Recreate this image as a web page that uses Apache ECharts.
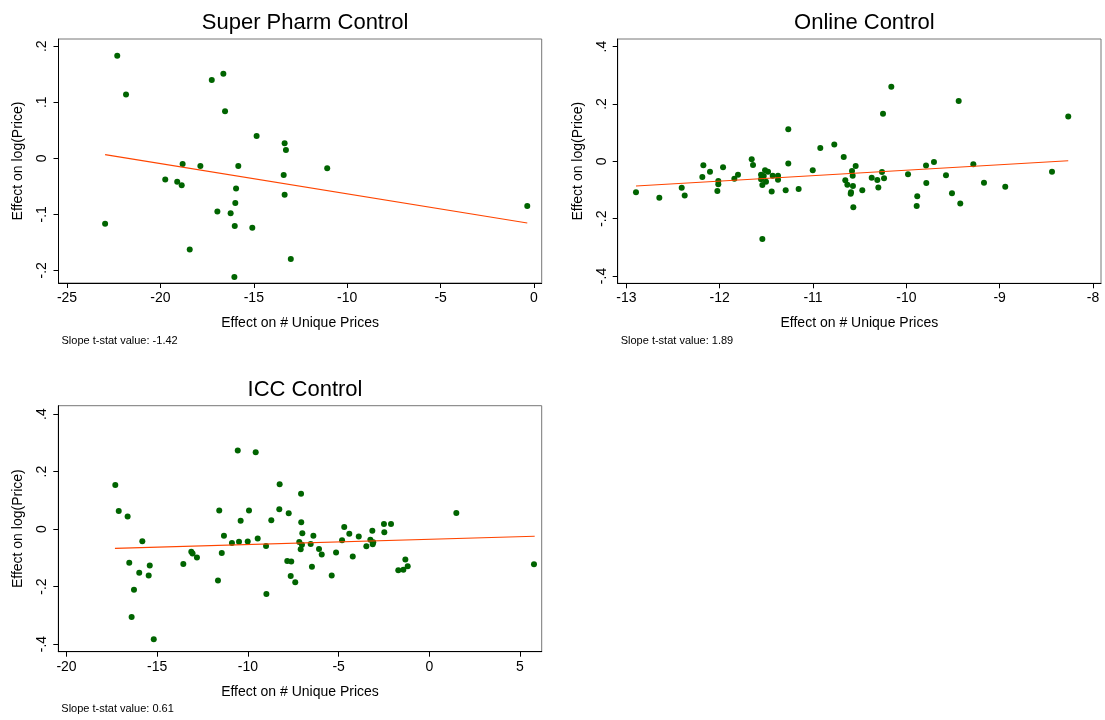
<!DOCTYPE html>
<html>
<head>
<meta charset="utf-8">
<script src="https://cdn.jsdelivr.net/npm/echarts@6/dist/echarts.min.js"></script>
<style>
html,body{margin:0;padding:0;background:#fff;}
#chart{width:1105px;height:720px;}
</style>
</head>
<body>
<div id="chart"></div>
<script>
// ---------- data ----------
const panelTitles = ['Super Pharm Control', 'Online Control', 'ICC Control'];
const tStatTexts = ['Slope t-stat value: -1.42', 'Slope t-stat value: 1.89', 'Slope t-stat value: 0.61'];
const xAxisName = 'Effect on # Unique Prices';
const yAxisName = 'Effect on log(Price)';

const superPharmPoints = [
  [-22.31,0.183],[-21.84,0.114],[-17.25,0.140],[-16.63,0.151],[-16.54,0.084],[-14.85,0.040],
  [-13.35,0.027],[-13.28,0.015],[-18.81,-0.010],[-17.86,-0.014],[-15.83,-0.014],[-19.74,-0.038],
  [-19.10,-0.042],[-18.86,-0.048],[-13.40,-0.030],[-15.95,-0.054],[-13.35,-0.065],[-15.99,-0.080],
  [-16.95,-0.095],[-16.24,-0.098],[-22.96,-0.117],[-16.02,-0.121],[-15.08,-0.124],[-18.43,-0.163],
  [-13.02,-0.180],[-16.04,-0.212],[-11.07,-0.018],[-0.36,-0.085]
];
const superPharmFit = [[-22.96,0.0065],[-0.36,-0.1155]];

const onlinePoints = [
  [-12.897,-0.108],[-12.647,-0.127],[-12.407,-0.092],[-12.375,-0.119],[-12.175,-0.014],[-12.186,-0.055],
  [-12.104,-0.036],[-11.964,-0.021],[-12.015,-0.069],[-12.015,-0.080],[-12.025,-0.104],[-11.843,-0.061],
  [-11.804,-0.047],[-11.657,0.007],[-11.643,-0.013],[-11.557,-0.047],[-11.514,-0.031],[-11.482,-0.036],
  [-11.528,-0.051],[-11.557,-0.063],[-11.504,-0.071],[-11.543,-0.083],[-11.543,-0.271],[-11.432,-0.050],
  [-11.375,-0.050],[-11.375,-0.064],[-11.443,-0.105],[-11.265,0.112],[-11.265,-0.008],[-11.293,-0.101],
  [-11.154,-0.097],[-11.003,-0.031],[-10.922,0.046],[-10.772,0.059],[-10.671,0.015],[-10.582,-0.034],
  [-10.575,-0.050],[-10.654,-0.066],[-10.632,-0.082],[-10.572,-0.086],[-10.593,-0.108],[-10.596,-0.113],
  [-10.568,-0.160],[-10.543,-0.016],[-10.472,-0.101],[-10.250,0.166],[-10.161,0.260],[-10.261,-0.037],
  [-10.239,-0.059],[-10.371,-0.057],[-10.311,-0.065],[-10.300,-0.091],[-9.982,-0.045],[-9.789,-0.015],
  [-9.704,-0.002],[-9.786,-0.076],[-9.883,-0.122],[-9.889,-0.156],[-9.575,-0.049],[-9.511,-0.111],
  [-9.439,0.210],[-9.422,-0.147],[-9.282,-0.010],[-9.168,-0.075],[-8.940,-0.089],[-8.439,-0.036],
  [-8.265,0.156]
];
const onlineFit = [[-12.897,-0.086],[-8.265,0.002]];

const iccPoints = [
  [-17.31,0.153],[-17.12,0.063],[-16.63,0.044],[-15.82,-0.042],[-16.54,-0.117],[-15.99,-0.152],
  [-15.47,-0.161],[-15.41,-0.127],[-16.28,-0.211],[-16.41,-0.306],[-15.19,-0.383],[-13.56,-0.121],
  [-13.12,-0.079],[-13.05,-0.085],[-12.81,-0.099],[-11.65,-0.179],[-11.58,0.065],[-11.44,-0.083],
  [-11.32,-0.023],[-10.88,-0.048],[-10.49,-0.044],[-10.56,0.273],[-10.40,0.029],[-10.01,-0.043],
  [-9.94,0.065],[-9.57,0.267],[-9.46,-0.033],[-9.00,-0.059],[-8.98,-0.226],[-8.71,0.031],
  [-8.25,0.156],[-8.27,0.069],[-7.75,0.055],[-7.83,-0.111],[-7.61,-0.113],[-7.64,-0.163],
  [-7.39,-0.185],[-7.07,0.123],[-7.06,0.024],[-7.00,-0.014],[-7.17,-0.045],[-7.02,-0.054],
  [-7.09,-0.070],[-6.39,-0.023],[-6.54,-0.052],[-6.47,-0.131],[-6.08,-0.069],[-5.93,-0.088],
  [-5.38,-0.161],[-5.14,-0.081],[-4.81,-0.039],[-4.69,0.007],[-4.41,-0.016],[-4.22,-0.095],
  [-3.89,-0.026],[-3.47,-0.060],[-3.25,-0.037],[-3.14,-0.006],[-3.12,-0.053],[-3.09,-0.046],
  [-2.50,0.018],[-2.11,0.018],[-2.48,-0.011],[-1.71,-0.143],[-1.43,-0.141],[-1.32,-0.106],
  [-1.19,-0.129],[1.49,0.056],[5.77,-0.122]
];
const iccFit = [[-17.33,-0.067],[5.81,-0.025]];

const xTicks = [[-25,-20,-15,-10,-5,0],[-13,-12,-11,-10,-9,-8],[-20,-15,-10,-5,0,5]];
const yTicks = [[-0.2,-0.1,0,0.1,0.2],[-0.4,-0.2,0,0.2,0.4],[-0.4,-0.2,0,0.2,0.4]];
const xRanges = [[-25.455,0.412],[-13.093,-7.914],[-20.452,6.196]];
const yRanges = [[-0.2227,0.2130],[-0.4255,0.4266],[-0.4264,0.4292]];

// ---------- layout ----------
const FONT = 'Liberation Sans, Arial, sans-serif';
const grids = [
  {left:58.5, top:39, width:483.2, height:244},
  {left:617.7, top:39, width:483.3, height:244.3},
  {left:58.3, top:405.7, width:483.4, height:246}
];
const pointSets = [superPharmPoints, onlinePoints, iccPoints];
const fitSets = [superPharmFit, onlineFit, iccFit];

function fmtY(v){
  if (Math.abs(v) < 1e-9) return '0';
  let s = String(Math.round(v*10)/10);
  return s.replace('0.', '.');
}

const option = {
  backgroundColor:'#fff',
  animation:false,
  title: panelTitles.map((t,i)=>({
    text:t, left: grids[i].left + grids[i].width/2, top: grids[i].top - 32, textAlign:'center',
    textStyle:{fontFamily:FONT, fontSize:22, fontWeight:'normal', color:'#000'}
  })),
  grid: grids.map(g=>({left:g.left, top:g.top, width:g.width, height:g.height, show:true,
    borderColor:'#777', borderWidth:1, backgroundColor:'#fff', containLabel:false})),
  xAxis: grids.map((g,i)=>({
    type:'value', gridIndex:i, min:xRanges[i][0], max:xRanges[i][1],
    name:xAxisName, nameLocation:'middle', nameGap:33,
    nameTextStyle:{fontFamily:FONT, fontSize:14, color:'#000'},
    axisLine:{show:true, onZero:false, lineStyle:{color:'#000', width:1}},
    axisTick:{show:true, length:5, customValues:xTicks[i], lineStyle:{color:'#000'}},
    axisLabel:{customValues:xTicks[i], fontFamily:FONT, fontSize:14, color:'#000', margin:8,
      formatter:v=>String(v)},
    splitLine:{show:false}
  })),
  yAxis: grids.map((g,i)=>({
    type:'value', gridIndex:i, min:yRanges[i][0], max:yRanges[i][1],
    name:yAxisName, nameLocation:'middle', nameGap:33,
    nameTextStyle:{fontFamily:FONT, fontSize:14, color:'#000'},
    axisLine:{show:true, onZero:false, lineStyle:{color:'#000', width:1}},
    axisTick:{show:true, length:5, customValues:yTicks[i], lineStyle:{color:'#000'}},
    axisLabel:{customValues:yTicks[i], rotate:90, fontFamily:FONT, fontSize:14, color:'#000', margin:9,
      formatter:fmtY},
    splitLine:{show:false}
  })),
  graphic: tStatTexts.map((t,i)=>({
    type:'text', left: grids[i].left + 3, top: grids[i].top + grids[i].height + 52,
    style:{text:t, fontFamily:FONT, fontSize:11, fill:'#000'}
  })),
  series: []
};

pointSets.forEach((pts,i)=>{
  option.series.push({
    type:'scatter', xAxisIndex:i, yAxisIndex:i, data:pts, symbol:'circle', symbolSize:6,
    itemStyle:{color:'#006400', opacity:1}, z:2
  });
  option.series.push({
    type:'line', xAxisIndex:i, yAxisIndex:i, data:fitSets[i], showSymbol:false, symbol:'none',
    lineStyle:{color:'#ff4500', width:1.1}, z:3, silent:true
  });
});

const chart = echarts.init(document.getElementById('chart'), null, {renderer:'canvas'});
chart.setOption(option);
</script>
</body>
</html>
